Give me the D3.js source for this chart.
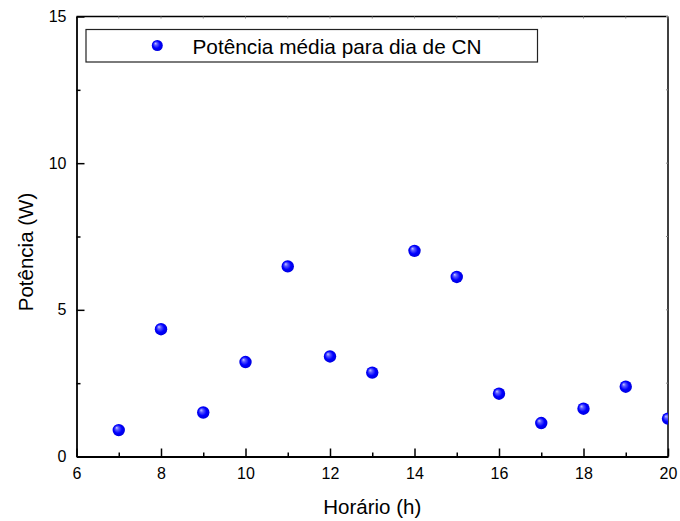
<!DOCTYPE html>
<html>
<head>
<meta charset="utf-8">
<script src="https://cdn.jsdelivr.net/npm/d3@7"></script>
<style>
  html, body { margin: 0; padding: 0; background: #fff; }
  svg { display: block; font-family: "Liberation Sans", Arial, sans-serif; }
</style>
</head>
<body>
<svg id="chart" width="680" height="521"></svg>
<script>
// Average power per hour on a clear-sky (CN) day
const hours = [7, 8, 9, 10, 11, 12, 13, 14, 15, 16, 17, 18, 19, 20];
const power = [0.90, 4.34, 1.50, 3.22, 6.48, 3.41, 2.86, 7.01, 6.12, 2.14, 1.14, 1.63, 2.38, 1.29];
const xTicks = [6, 8, 10, 12, 14, 16, 18, 20];
const xMinor = [7, 9, 11, 13, 15, 17, 19];
const yTicks = [0, 5, 10, 15];
const yMinor = [2.5, 7.5, 12.5];
const legendLabel = "Potência média para dia de CN";
const xTitle = "Horário (h)";
const yTitle = "Potência (W)";

const svg = d3.select("#chart");
const L = 76.5, R = 668, T = 16.5, B = 456.5;

const x = d3.scaleLinear().domain([6, 20]).range([L, R]);
const y = d3.scaleLinear().domain([0, 15]).range([B, T]);

// sphere-like shading for the markers
const defs = svg.append("defs");
const grad = defs.append("radialGradient")
  .attr("id", "ball").attr("cx", "50%").attr("cy", "50%").attr("r", "55%")
  .attr("fx", "32%").attr("fy", "30%");
grad.append("stop").attr("offset", "0%").attr("stop-color", "#c8c8ff");
grad.append("stop").attr("offset", "25%").attr("stop-color", "#5a5aff");
grad.append("stop").attr("offset", "60%").attr("stop-color", "#0000ff");
grad.append("stop").attr("offset", "100%").attr("stop-color", "#0000d8");

defs.append("clipPath").attr("id", "plotClip")
  .append("rect").attr("x", L).attr("y", T).attr("width", R - L).attr("height", B - T);

// frame: top and right mirror lines
svg.append("line").attr("x1", L).attr("x2", R).attr("y1", T).attr("y2", T)
  .attr("stroke", "#000").attr("stroke-width", 1.5);
svg.append("line").attr("x1", R).attr("x2", R).attr("y1", T).attr("y2", B)
  .attr("stroke", "#000").attr("stroke-width", 1.5);

// faint mirror ticks on top and right
const mirror = svg.append("g").attr("stroke", "#888").attr("stroke-width", 1);
xTicks.concat(xMinor).forEach(v => {
  mirror.append("line").attr("x1", x(v)).attr("x2", x(v)).attr("y1", T).attr("y2", T + 2);
});
yTicks.concat(yMinor).forEach(v => {
  mirror.append("line").attr("x1", R).attr("x2", R - 2).attr("y1", y(v)).attr("y2", y(v));
});

// bottom axis
const xAxis = d3.axisBottom(x).tickValues(xTicks).tickSizeInner(-8).tickSizeOuter(0).tickPadding(11)
  .tickFormat(d3.format("d"));
const gx = svg.append("g").attr("transform", `translate(0,${B})`).call(xAxis);
const xAxisMinor = d3.axisBottom(x).tickValues(xMinor).tickSizeInner(-4).tickSizeOuter(0).tickFormat("");
const gxm = svg.append("g").attr("transform", `translate(0,${B})`).call(xAxisMinor);
gxm.select(".domain").remove();

// left axis
const yAxis = d3.axisLeft(y).tickValues(yTicks).tickSizeInner(-8).tickSizeOuter(0).tickPadding(10)
  .tickFormat(d3.format("d"));
const gy = svg.append("g").attr("transform", `translate(${L},0)`).call(yAxis);
const yAxisMinor = d3.axisLeft(y).tickValues(yMinor).tickSizeInner(-4).tickSizeOuter(0).tickFormat("");
const gym = svg.append("g").attr("transform", `translate(${L},0)`).call(yAxisMinor);
gym.select(".domain").remove();

[gx, gy, gxm, gym].forEach(g => {
  g.selectAll("line").attr("stroke", "#000").attr("stroke-width", 1.5);
  g.selectAll(".domain").attr("stroke", "#000").attr("stroke-width", 1.8);
  g.selectAll("text").attr("font-family", "Liberation Sans, Arial, sans-serif")
    .attr("font-size", 16).attr("fill", "#000");
});

// axis titles
svg.append("text").attr("x", (L + R) / 2).attr("y", 514)
  .attr("text-anchor", "middle").attr("font-size", 20.5).attr("fill", "#000").text(xTitle);
svg.append("text").attr("transform", "translate(33,252) rotate(-90)")
  .attr("text-anchor", "middle").attr("font-size", 20.5).attr("fill", "#000").text(yTitle);

// data points
svg.append("g").attr("clip-path", "url(#plotClip)")
  .selectAll("circle").data(hours.map((h, i) => ({ h, p: power[i] })))
  .join("circle")
  .attr("cx", d => x(d.h)).attr("cy", d => y(d.p)).attr("r", 6.2)
  .attr("fill", "url(#ball)");

// legend
const lg = svg.append("g");
lg.append("rect").attr("x", 86).attr("y", 29.5).attr("width", 451.5).attr("height", 32.5)
  .attr("fill", "#fff").attr("stroke", "#222").attr("stroke-width", 1.2);
lg.append("circle").attr("cx", 157.3).attr("cy", 45.5).attr("r", 5.5).attr("fill", "url(#ball)");
lg.append("text").attr("x", 192.5).attr("y", 53.5).attr("font-size", 20.8).attr("fill", "#000")
  .text(legendLabel);
</script>
</body>
</html>
